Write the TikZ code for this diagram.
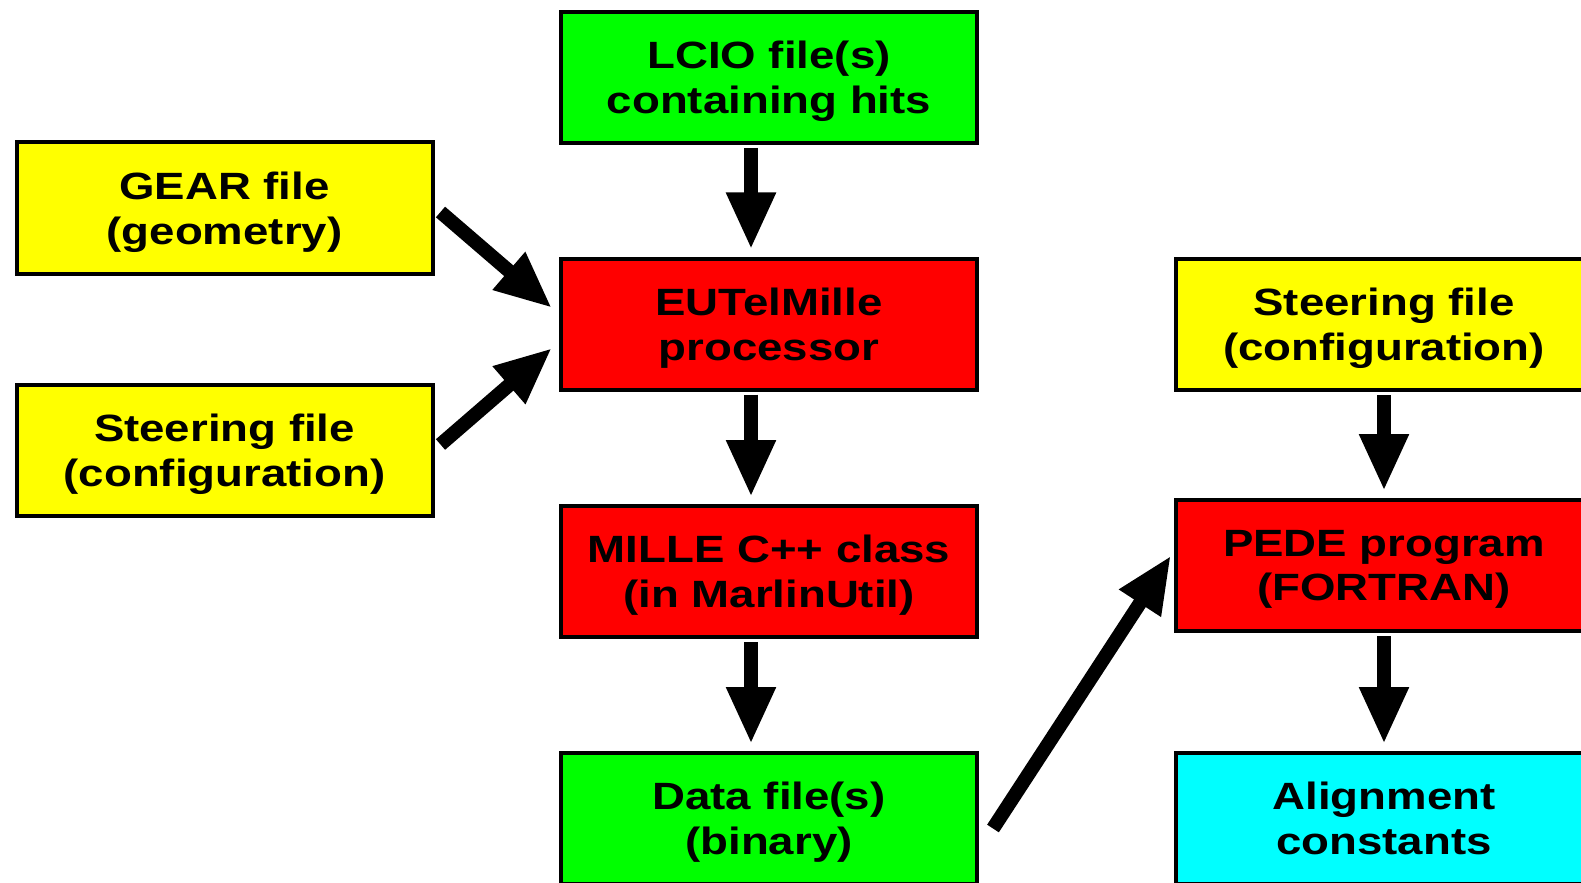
\documentclass[tikz,border=0pt]{standalone}
\usepackage{fontspec}
\setmainfont[FakeStretch=1.2]{Liberation Sans}
\usepackage{xcolor}
\usetikzlibrary{arrows.meta}

\definecolor{boxyellow}{RGB}{255,255,0}
\definecolor{boxred}{RGB}{255,0,0}
\definecolor{boxgreen}{RGB}{0,255,0}
\definecolor{boxcyan}{RGB}{0,255,255}

\tikzset{
  flowbox/.style={draw=black, line width=2pt, minimum width=208pt, minimum height=65.5pt,
    inner sep=0pt, text depth=0pt, align=center, font=\fontsize{19pt}{22.3pt}\selectfont\bfseries},
  flowarrow/.style={line width=7pt, -{Triangle[width=23pt,length=28.5pt]}},
}

\begin{document}
\begin{tikzpicture}[x=0.5pt,y=0.5pt,yscale=-1,xscale=1]
\useasboundingbox (0,0) rectangle (1581,883);
\clip (0,0) rectangle (1581,883);

% Text Node
\node [flowbox, fill=boxgreen] (lcio) at (769,77.5) {LCIO file(s)\\containing hits};
% Text Node
\node [flowbox, fill=boxyellow] (gear) at (224.5,208) {GEAR file\\(geometry)};
% Text Node
\node [flowbox, fill=boxyellow] (steerL) at (224.5,450.5) {Steering file\\(configuration)};
% Text Node
\node [flowbox, fill=boxred] (eutel) at (769,324) {EUTelMille\\processor};
% Text Node
\node [flowbox, fill=boxred] (millecls) at (769,571.5) {MILLE C++ class\\(in MarlinUtil)};
% Text Node
\node [flowbox, fill=boxgreen] (datafile) at (769,818.5) {Data file(s)\\(binary)};
% Text Node
\node [flowbox, fill=boxyellow] (steerR) at (1384,324.5) {Steering file\\(configuration)};
% Text Node
\node [flowbox, fill=boxred] (pede) at (1384,565.5) {PEDE program\\(FORTRAN)};
% Text Node
\node [flowbox, fill=boxcyan] (consts) at (1384,818.5) {Alignment\\constants};

%Straight Lines (down arrows)
\draw [flowarrow, shorten <=1.5pt, shorten >=3.5pt] ([xshift=-9pt]lcio.south) -- ([xshift=-9pt]eutel.north);
\draw [flowarrow, shorten <=1.5pt, shorten >=3.5pt] ([xshift=-9pt]eutel.south) -- ([xshift=-9pt]millecls.north);
\draw [flowarrow, shorten <=1.5pt, shorten >=3.5pt] ([xshift=-9pt]millecls.south) -- ([xshift=-9pt]datafile.north);
\draw [flowarrow, shorten <=1.5pt, shorten >=3.5pt] (steerR.south) -- (pede.north);
\draw [flowarrow, shorten <=1.5pt, shorten >=3.5pt] (pede.south) -- (consts.north);

%Straight Lines (inputs)
\draw [flowarrow] ([xshift=3pt,yshift=2pt]gear.east) -- ([xshift=-3.5pt,yshift=-8pt]eutel.west);
\draw [flowarrow] ([xshift=3pt,yshift=-3pt]steerL.east) -- ([xshift=-3.5pt,yshift=12pt]eutel.west);
\draw [flowarrow] ([xshift=7pt,yshift=5pt]datafile.east) -- ([xshift=-1.5pt,yshift=-5pt]pede.west);

\end{tikzpicture}
\end{document}
